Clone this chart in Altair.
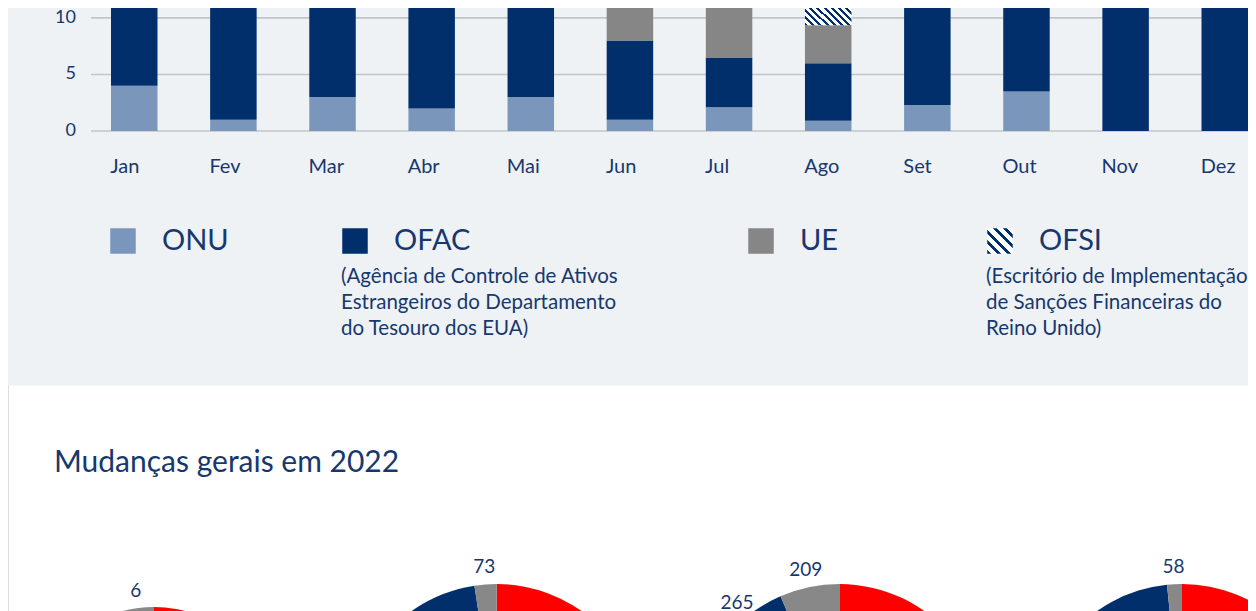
import math
import altair as alt
import pandas as pd

# ---------------- data ----------------
MONTHS = ["Jan", "Fev", "Mar", "Abr", "Mai", "Jun", "Jul", "Ago", "Set", "Out", "Nov", "Dez"]
ONU = [4, 1, 3, 2, 3, 1, 2.1, 0.9, 2.3, 3.5, 0, 0]
OFAC = [7, 10, 10, 12, 8, 7, 4.4, 5.1, 10, 9, 12, 11.25]
UE = [3, 2, 0, 0, 2, 5, 5, 3.35, 0, 0, 0, 1]
OFSI = [0, 0, 0, 0, 0, 0, 0, 4, 0, 0, 0, 0]
SERIES = ["ONU", "OFAC", "UE", "OFSI"]
Y_TICKS = [0, 5, 10]

LEGEND_NAMES = ["ONU", "OFAC", "UE", "OFSI"]
LEGEND_DESCS = [
    "",
    "(Agência de Controle de Ativos\nEstrangeiros do Departamento\ndo Tesouro dos EUA)",
    "",
    "(Escritório de Implementação\nde Sanções Financeiras do\nReino Unido)",
]

TITLE = "Mudanças gerais em 2022"

PIES = ["p1", "p2", "p3", "p4"]
PIE_CATS = ["Adições", "Alterações", "Remoções"]  # clockwise from 12 o'clock
PIE_RED = [100, 2100, 2714, 2600]
PIE_BLUE = [40, 847, 265, 900]
PIE_GRAY = [6, 73, 209, 58]

# ---------------- styles ----------------
W, H = 1240, 603
FONT = "Lato"
TEXT = "#17386e"
NAVY = "#002f6c"
C_ONU = "#7b96bb"
C_UE = "#868686"
C_GRAY_PIE = "#888888"
C_RED = "#ff0000"
BAND = "#eff2f5"
GRID = "#c2c5c9"

PX_PER_UNIT = 11.31
BASE_Y = 123  # plot px of value 0


def hatch(n, frac=0.42):
    stops = []
    for i in range(n):
        a, b, c = i / n, (i + frac) / n, (i + 1) / n
        stops += [
            alt.GradientStop(color=NAVY, offset=a),
            alt.GradientStop(color=NAVY, offset=b),
            alt.GradientStop(color="white", offset=b),
            alt.GradientStop(color="white", offset=c),
        ]
    return alt.LinearGradient(gradient="linear", stops=stops, x1=0, y1=1, x2=1, y2=0)


# ---------------- tables ----------------
rows = []
for i, m in enumerate(MONTHS):
    for k, (s, arr) in enumerate(zip(SERIES, [ONU, OFAC, UE, OFSI])):
        rows.append({"month": m, "series": s, "value": arr[i], "ord": k})
bars_df = pd.DataFrame(rows)

legend_df = pd.DataFrame({"name": LEGEND_NAMES, "desc": LEGEND_DESCS})

prow = []
for i, p in enumerate(PIES):
    for k, (c, arr) in enumerate(zip(PIE_CATS, [PIE_RED, PIE_BLUE, PIE_GRAY])):
        prow.append({"pie": p, "cat": c, "value": arr[i], "ord": k})
pie_df = pd.DataFrame(prow)

# ---------------- background band ----------------
bg = alt.Chart(pd.DataFrame({"a": [0]})).mark_rect(color=BAND).encode(
    x=alt.value(0), x2=alt.value(W), y=alt.value(0), y2=alt.value(377.5)
)

# ---------------- bar chart ----------------
y_scale = alt.Scale(domain=[0, BASE_Y / PX_PER_UNIT], range=[BASE_Y, 0], nice=False, zero=True)
x_scale = alt.Scale(domain=MONTHS, range=[103, 1240], paddingInner=0.531, paddingOuter=0)

ticks_df = pd.DataFrame({"v": Y_TICKS})
grid = alt.Chart(ticks_df).mark_rule(color=GRID, strokeWidth=1.6).encode(
    y=alt.Y("v:Q", scale=y_scale, axis=None), x=alt.value(83), x2=alt.value(W)
)
y_labels = alt.Chart(ticks_df).mark_text(
    align="right", baseline="middle", fontSize=18, font=FONT, color=TEXT
).encode(y=alt.Y("v:Q", scale=y_scale, axis=None), x=alt.value(68), text="v:Q")

month_labels = alt.Chart(pd.DataFrame({"month": MONTHS})).mark_text(
    align="left", baseline="middle", dx=-24, fontSize=20, font=FONT, color=TEXT
).encode(x=alt.X("month:N", scale=x_scale, axis=None), y=alt.value(159), text="month:N")

stacked = alt.Chart(bars_df).transform_stack(
    stack="value", groupby=["month"], as_=["y0", "y1"], sort=[alt.SortField("ord", order="ascending")]
)

bars = stacked.transform_filter("datum.series != 'OFSI'").mark_bar(clip=True).encode(
    x=alt.X("month:N", scale=x_scale, axis=None),
    y=alt.Y("y1:Q", scale=y_scale, axis=None),
    y2="y0:Q",
    color=alt.Color("series:N", scale=alt.Scale(domain=SERIES[:3], range=[C_ONU, NAVY, C_UE]), legend=None),
)

ofsi = stacked.transform_filter("datum.series == 'OFSI' && datum.value > 0").mark_bar(
    clip=True, color=hatch(13)
).encode(
    x=alt.X("month:N", scale=x_scale, axis=None),
    y=alt.Y("y1:Q", scale=y_scale, axis=None),
    y2="y0:Q",
)

bar_layer = alt.layer(grid, bars, ofsi, y_labels, month_labels)

# ---------------- legend ----------------
leg_x = alt.X("idx:Q", scale=alt.Scale(domain=[1, 2, 3, 4], range=[115, 347, 753, 992], zero=False, nice=False), axis=None)
leg_base = alt.Chart(legend_df).transform_window(idx="row_number()")

leg_sq = leg_base.transform_filter("datum.name != 'OFSI'").mark_square(size=650, opacity=1, filled=True).encode(
    x=leg_x, y=alt.value(233),
    color=alt.Color("name:N", scale=alt.Scale(domain=LEGEND_NAMES[:3], range=[C_ONU, NAVY, C_UE]), legend=None),
)
leg_hatch = leg_base.transform_filter("datum.name == 'OFSI'").mark_square(
    size=650, opacity=1, filled=True, color=hatch(5, 0.4)
).encode(x=leg_x, y=alt.value(233))

leg_name = leg_base.mark_text(
    align="left", baseline="middle", dx=39, fontSize=29, font=FONT, color=TEXT
).encode(x=leg_x, y=alt.value(233), text="name:N")

leg_desc = leg_base.transform_filter("datum.desc != ''").mark_text(
    align="left", baseline="top", dx=-14, fontSize=20.5, font=FONT, color=TEXT, lineBreak="\n", lineHeight=26
).encode(x=leg_x, y=alt.value(259), text="desc:N")

legend_layer = alt.layer(leg_sq, leg_hatch, leg_name, leg_desc)

# ---------------- section title ----------------
title = alt.Chart(pd.DataFrame({"t": [TITLE]})).mark_text(
    align="left", baseline="middle", fontSize=30, font=FONT, color=TEXT
).encode(x=alt.value(46), y=alt.value(455), text="t:N")

# ---------------- pies ----------------
pie_base = alt.Chart(pie_df).transform_stack(
    stack="value", groupby=["pie"], as_=["t0", "t1"], offset="normalize", sort=[alt.SortField("ord", order="ascending")]
).transform_calculate(mid="(datum.t0 + datum.t1) / 2")

pie_x = alt.X("pie:N", scale=alt.Scale(type="point", domain=PIES, range=[146, 1174], padding=0), axis=None)
theta_scale = alt.Scale(domain=[0, 1], range=[0, 2 * math.pi])
pie_color = alt.Color("cat:N", scale=alt.Scale(domain=PIE_CATS, range=[C_RED, NAVY, C_GRAY_PIE]), legend=None)

arcs_small = pie_base.transform_filter("datum.pie == 'p1'").mark_arc(outerRadius=124).encode(
    x=pie_x, y=alt.value(723), theta=alt.Theta("t0:Q", scale=theta_scale), theta2="t1:Q", color=pie_color
)
arcs_big = pie_base.transform_filter("datum.pie != 'p1'").mark_arc(outerRadius=147).encode(
    x=pie_x, y=alt.value(723), theta=alt.Theta("t0:Q", scale=theta_scale), theta2="t1:Q", color=pie_color
)
lab_small = pie_base.transform_filter("datum.pie == 'p1'").mark_text(
    radius=141, fontSize=19, font=FONT, color=TEXT, align="center", baseline="middle"
).encode(x=pie_x, y=alt.value(723), theta=alt.Theta("mid:Q", scale=theta_scale), text="value:Q")
lab_big = pie_base.transform_filter("datum.pie != 'p1'").mark_text(
    radius=164, fontSize=19, font=FONT, color=TEXT, align="center", baseline="middle"
).encode(x=pie_x, y=alt.value(723), theta=alt.Theta("mid:Q", scale=theta_scale), text="value:Q")

pie_layer = alt.layer(arcs_small, arcs_big, lab_small, lab_big)

# ---------------- compose ----------------
chart = (
    alt.layer(bg, bar_layer, legend_layer, title, pie_layer)
    .resolve_scale(x="independent", y="independent", color="independent", theta="independent")
    .properties(width=W, height=H, autosize=alt.AutoSizeParams(type="none"), padding=0, background="white")
    .configure_view(strokeWidth=0)
    .configure(font=FONT)
)

chart.save("out.html", embed_options={"renderer": "svg", "actions": False})
